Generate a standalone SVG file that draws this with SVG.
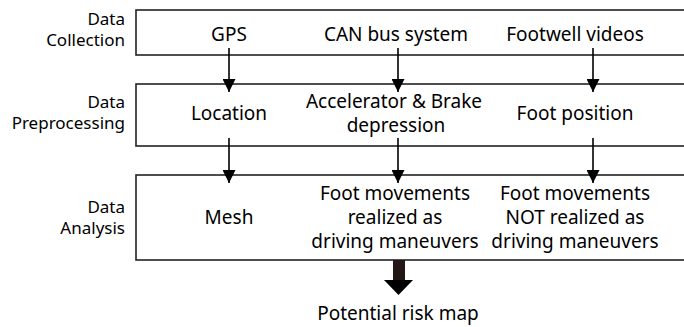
<svg xmlns="http://www.w3.org/2000/svg" width="684" height="327" viewBox="0 0 684 327">
<style>
.box{fill:#fff;stroke:#222;stroke-width:1.6}
.t{font-family:"Noto Sans","Open Sans",sans-serif;font-size:19px;fill:#000;text-anchor:middle}
.lab{font-family:"Noto Sans","Open Sans",sans-serif;font-size:17px;fill:#000;text-anchor:end}
.ln{stroke:#000;stroke-width:1.6;fill:none}
</style>
<defs>
<marker id="ah" markerUnits="userSpaceOnUse" markerWidth="14" markerHeight="13" refX="13" refY="6.5" orient="auto">
<path d="M0,0 L13,6.5 L0,13 Z" fill="#000"/>
</marker>
</defs>
<g id="stage-collection">
<rect class="box" x="136" y="10" width="549" height="45"/>
<text class="lab" x="125" y="25">Data</text>
<text class="lab" x="125" y="46">Collection</text>
<text class="t" x="229" y="41">GPS</text>
<text class="t" x="396" y="41">CAN bus system</text>
<text class="t" x="575" y="41">Footwell videos</text>
</g>
<g id="stage-preprocessing">
<rect class="box" x="136" y="84" width="549" height="62"/>
<text class="lab" x="125" y="108">Data</text>
<text class="lab" x="125" y="129">Preprocessing</text>
<text class="t" x="229" y="120">Location</text>
<text class="t" x="394" y="108">Accelerator &amp; Brake</text>
<text class="t" x="396" y="132">depression</text>
<text class="t" x="575" y="120">Foot position</text>
</g>
<g id="stage-analysis">
<rect class="box" x="136" y="175" width="549" height="85"/>
<text class="lab" x="125" y="213">Data</text>
<text class="lab" x="125" y="234">Analysis</text>
<text class="t" x="229" y="224">Mesh</text>
<text class="t" x="395" y="200">Foot movements</text>
<text class="t" x="395" y="224">realized as</text>
<text class="t" x="395" y="248">driving maneuvers</text>
<text class="t" x="575" y="200">Foot movements</text>
<text class="t" x="575" y="224">NOT realized as</text>
<text class="t" x="575" y="248">driving maneuvers</text>
</g>
<g id="result">
<text class="t" x="398" y="320">Potential risk map</text>
</g>
<g id="connectors">
<line class="ln" x1="229" y1="48" x2="229" y2="92" marker-end="url(#ah)"/>
<line class="ln" x1="398" y1="48" x2="398" y2="92" marker-end="url(#ah)"/>
<line class="ln" x1="593" y1="48" x2="593" y2="92" marker-end="url(#ah)"/>
<line class="ln" x1="229" y1="138" x2="229" y2="183" marker-end="url(#ah)"/>
<line class="ln" x1="398" y1="138" x2="398" y2="183" marker-end="url(#ah)"/>
<line class="ln" x1="593" y1="138" x2="593" y2="183" marker-end="url(#ah)"/>
<rect x="393" y="260" width="12" height="21" fill="#231815"/>
<path d="M384,280 L413,280 L398.5,295 Z" fill="#000"/>
</g>
</svg>
